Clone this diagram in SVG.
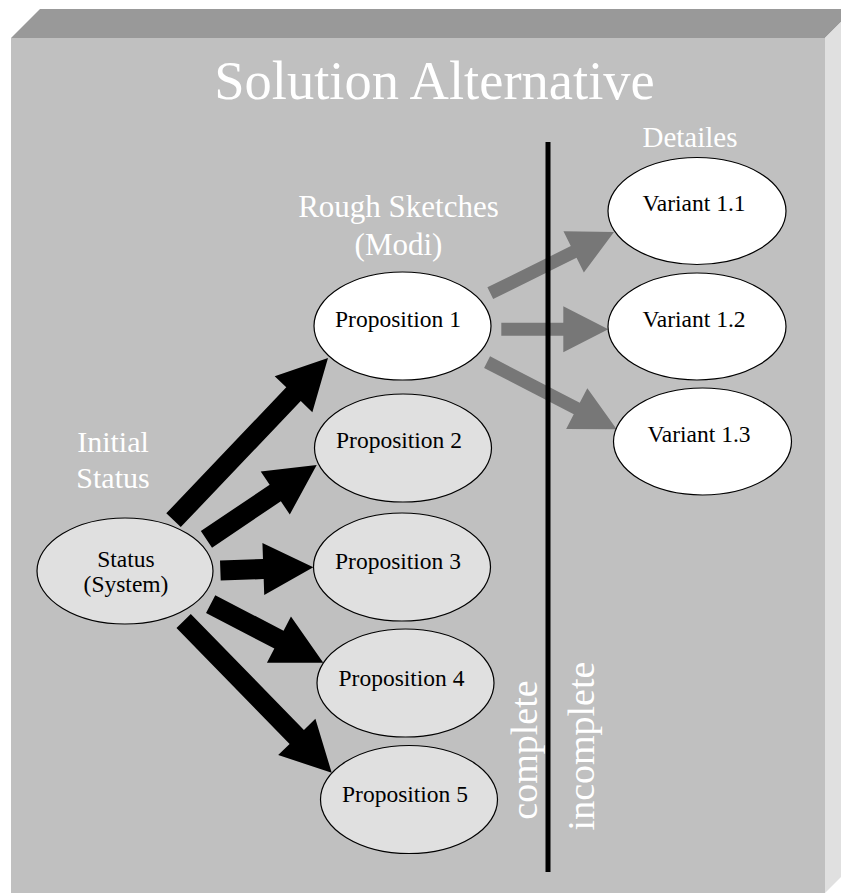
<svg xmlns="http://www.w3.org/2000/svg" width="841" height="893" viewBox="0 0 841 893">
  <style>
    .face-front { fill: #c0c0c0; }
    .face-top { fill: #999999; }
    .face-side { fill: #e0e0e0; }
    .node { stroke: #000000; stroke-width: 1.2; }
    .sel { fill: #ffffff; }
    .alt { fill: #e0e0e0; }
    .nt { font-family: "Liberation Serif", "Times New Roman", serif; font-size: 23.5px; fill: #000000; text-anchor: middle; }
    .lbl { font-family: "Liberation Serif", "Times New Roman", serif; fill: #ffffff; text-anchor: middle; }
    .blk { fill: #000000; }
    .gry { fill: #777777; }
  </style>

  <!-- 3D panel -->
  <g id="panel">
    <polygon class="face-top" points="11,38 40,9 854,9 825,38"/>
    <polygon class="face-side" points="825,38 854,9 854,864 825,893"/>
    <rect class="face-front" x="11" y="38" width="814" height="855"/>
  </g>

  <!-- headings -->
  <g id="labels">
    <text class="lbl" x="434.5" y="99" font-size="54.5">Solution Alternative</text>
    <text class="lbl" x="113" y="452" font-size="30">Initial</text>
    <text class="lbl" x="113" y="488" font-size="30">Status</text>
    <text class="lbl" x="398.5" y="217" font-size="31">Rough Sketches</text>
    <text class="lbl" x="398.5" y="255" font-size="31">(Modi)</text>
    <text class="lbl" x="690" y="147" font-size="29">Detailes</text>
    <text class="lbl" transform="translate(537,750) rotate(-90)" font-size="38">complete</text>
    <text class="lbl" transform="translate(594,746) rotate(-90)" font-size="38">incomplete</text>
  </g>

  <!-- block arrows: tip at the origin, pointing along +x -->
  <g id="connectors">
    <polygon class="blk" transform="translate(328,358) rotate(-46.4)" points="0,0 -50,-26 -50,-10 -224,-10 -224,10 -50,10 -50,26"/>
    <polygon class="blk" transform="translate(316.7,465) rotate(-34)" points="0,0 -50,-26 -50,-10 -133,-10 -133,10 -50,10 -50,26"/>
    <polygon class="blk" transform="translate(313.3,567.3) rotate(-2)" points="0,0 -50,-26 -50,-10 -93,-10 -93,10 -50,10 -50,26"/>
    <polygon class="blk" transform="translate(323.3,662.7) rotate(27.5)" points="0,0 -50,-26 -50,-10 -127,-10 -127,10 -50,10 -50,26"/>
    <polygon class="blk" transform="translate(331.7,772.7) rotate(45.7)" points="0,0 -50,-26 -50,-10 -212,-10 -212,10 -50,10 -50,26"/>
    <polygon class="gry" transform="translate(614,232) rotate(-26.3)" points="0,0 -45,-23 -45,-6.5 -138,-6.5 -138,6.5 -45,6.5 -45,23"/>
    <polygon class="gry" transform="translate(608.3,329.3)" points="0,0 -45,-23 -45,-6.5 -107,-6.5 -107,6.5 -45,6.5 -45,23"/>
    <polygon class="gry" transform="translate(616.7,429.3) rotate(27.4)" points="0,0 -45,-23 -45,-6.5 -146,-6.5 -146,6.5 -45,6.5 -45,23"/>
  </g>

  <!-- divider between complete and incomplete -->
  <line id="divider" x1="548" y1="142" x2="548" y2="872" stroke="#000000" stroke-width="5"/>

  <g id="status">
    <ellipse class="node alt" cx="125" cy="571" rx="88" ry="53"/>
    <text class="nt" x="126" y="567">Status</text>
    <text class="nt" x="126" y="592">(System)</text>
  </g>
  <g id="proposition1">
    <ellipse class="node sel" cx="402.5" cy="326" rx="88.5" ry="54"/>
    <text class="nt" x="398" y="327">Proposition 1</text>
  </g>
  <g id="proposition2">
    <ellipse class="node alt" cx="403" cy="448" rx="88.5" ry="54"/>
    <text class="nt" x="399" y="448">Proposition 2</text>
  </g>
  <g id="proposition3">
    <ellipse class="node alt" cx="402" cy="567" rx="88.5" ry="54"/>
    <text class="nt" x="398" y="569">Proposition 3</text>
  </g>
  <g id="proposition4">
    <ellipse class="node alt" cx="405.5" cy="683" rx="88.5" ry="54"/>
    <text class="nt" x="401.5" y="686">Proposition 4</text>
  </g>
  <g id="proposition5">
    <ellipse class="node alt" cx="409" cy="799.5" rx="88.5" ry="54"/>
    <text class="nt" x="405" y="801.5">Proposition 5</text>
  </g>
  <g id="variant11">
    <ellipse class="node sel" cx="697" cy="211" rx="89" ry="53.5"/>
    <text class="nt" x="694" y="211">Variant 1.1</text>
  </g>
  <g id="variant12">
    <ellipse class="node sel" cx="697" cy="326.5" rx="89" ry="53.5"/>
    <text class="nt" x="694" y="327">Variant 1.2</text>
  </g>
  <g id="variant13">
    <ellipse class="node sel" cx="702.5" cy="441.5" rx="89" ry="53.5"/>
    <text class="nt" x="699" y="442">Variant 1.3</text>
  </g>
</svg>
